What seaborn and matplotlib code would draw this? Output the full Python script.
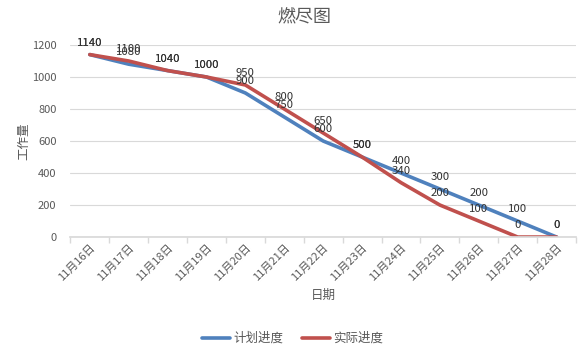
import matplotlib
matplotlib.use("Agg")
import matplotlib.pyplot as plt
import seaborn as sns
import pandas as pd

dates = ["11月16日", "11月17日", "11月18日", "11月19日", "11月20日", "11月21日", "11月22日",
         "11月23日", "11月24日", "11月25日", "11月26日", "11月27日", "11月28日"]
planned = [1140, 1080, 1040, 1000, 900, 750, 600, 500, 400, 300, 200, 100, 0]
actual = [1140, 1100, 1040, 1000, 950, 800, 650, 500, 340, 200, 100, 0, 0]
series_names = ["计划进度", "实际进度"]
colors = ["#4F81BD", "#C0504D"]

sns.set_theme(style="white")
plt.rcParams['font.family'] = ['Noto Sans CJK SC', 'DejaVu Sans']

df = pd.DataFrame({
    "日期": dates * 2,
    "工作量": planned + actual,
    "series": [series_names[0]] * len(dates) + [series_names[1]] * len(dates),
})

fig = plt.figure(figsize=(5.86, 3.57), dpi=100)
ax = fig.add_axes([0.12, 0.336, 0.863, 0.538])
sns.lineplot(data=df, x="日期", y="工作量", hue="series", palette=colors,
             linewidth=2.6, ax=ax, sort=False)

txt = "#333333"
for vals in (planned, actual):
    for i, v in enumerate(vals):
        ax.annotate(str(v), (i, v), xytext=(0, 5), textcoords="offset points",
                    ha="center", va="bottom", fontsize=8.2, color=txt, clip_on=False,
                    annotation_clip=False)

ax.set_xlim(-0.5, len(dates) - 0.5)
ax.set_ylim(0, 1200)
ax.set_yticks(range(0, 1201, 200))
ax.yaxis.grid(True, color="#D9D9D9", linewidth=0.8)
ax.set_axisbelow(True)
for s in ["top", "right", "left"]:
    ax.spines[s].set_visible(False)
ax.spines["bottom"].set_color("#D9D9D9")
ax.tick_params(axis="y", length=0, labelsize=8, labelcolor="#595959", pad=10)
ax.set_xticks(range(len(dates)))
ax.set_xticklabels(dates, rotation=45, ha="right", rotation_mode="anchor",
                   fontsize=8, color="#595959")
ax.tick_params(axis="x", length=0, pad=4)
ax.set_xticks([i - 0.5 for i in range(len(dates) + 1)], minor=True)
ax.tick_params(axis="x", which="minor", length=4, color="#D9D9D9", bottom=True)

ax.set_xlabel("日期", fontsize=9, color="#595959", labelpad=4)
ax.set_ylabel("工作量", fontsize=9, color="#595959")
ax.yaxis.set_label_coords(-0.08, 0.5)
fig.text(0.52, 0.95, "燃尽图", ha="center", va="center", fontsize=13, color="#595959")

handles, labels = ax.get_legend_handles_labels()
ax.legend(handles, labels, loc="center", bbox_to_anchor=(0.5, 0.052),
          bbox_transform=fig.transFigure, ncol=2, frameon=False, fontsize=9,
          handlelength=2.2, handletextpad=0.3, columnspacing=1.5,
          labelcolor="#595959")

fig.savefig("out.png", dpi=100)
